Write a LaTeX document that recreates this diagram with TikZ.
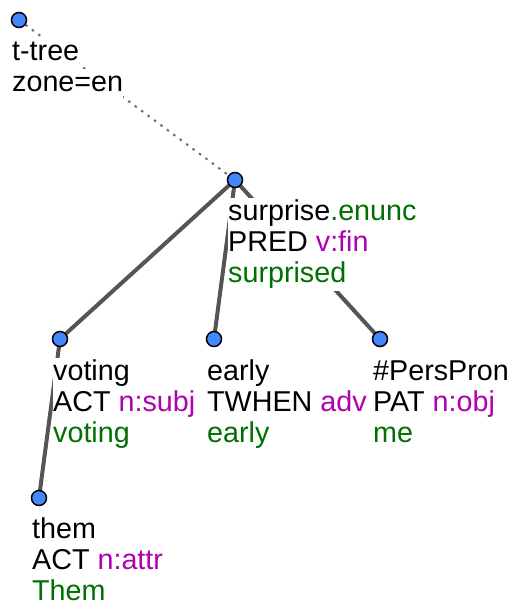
\documentclass[tikz,border=0pt]{standalone}
\usepackage{fontspec}
\setmainfont{Liberation Sans}
\definecolor{ndblue}{RGB}{68,136,255}
\definecolor{lgreen}{RGB}{0,112,0}
\definecolor{lmag}{RGB}{176,0,176}
\definecolor{edgegray}{RGB}{85,85,85}
\pgfdeclarelayer{bg}
\pgfsetlayers{bg,main}
\begin{document}
\begin{tikzpicture}[x=1pt,y=-1pt,font=\fontsize{28.7}{31}\selectfont,
  dot/.style={circle,draw=black,line width=1.5pt,fill=ndblue,minimum size=15pt,inner sep=0pt},
  lbl/.style={anchor=base west,fill=white,inner sep=0pt,text height=22pt,text depth=9pt},
  treeedge/.style={draw=edgegray,line width=4pt},
  dotline/.style={draw=edgegray!85,line width=2pt,dash pattern=on 2.5pt off 5.5pt}]
\useasboundingbox (0,0) rectangle (521,605);
% tree nodes
\node[dot] (root) at (19,20) {};
\node[dot] (surprise) at (235,180) {};
\node[dot] (voting) at (60,339) {};
\node[dot] (early) at (214,339) {};
\node[dot] (pers) at (380,339) {};
\node[dot] (them) at (39,498) {};
% labels
\node[lbl] (rootA) at (12,60) {t-tree};
\node[lbl] (rootB) at (12,91) {zone=en};
\node[lbl] (surA) at (228,220) {surprise\textcolor{lgreen}{.enunc}};
\node[lbl] (surB) at (228,251) {PRED \textcolor{lmag}{v:fin}};
\node[lbl] (surC) at (228,282) {\textcolor{lgreen}{surprised}};
\node[lbl] (votA) at (53,380) {voting};
\node[lbl] (votB) at (53,411) {ACT \textcolor{lmag}{n:subj}};
\node[lbl] (votC) at (53,442) {\textcolor{lgreen}{voting}};
\node[lbl] (earA) at (207,380) {early};
\node[lbl] (earB) at (207,411) {TWHEN \textcolor{lmag}{adv}};
\node[lbl] (earC) at (207,442) {\textcolor{lgreen}{early}};
\node[lbl] (perA) at (373,380) {\#PersPron};
\node[lbl] (perB) at (373,411) {PAT \textcolor{lmag}{n:obj}};
\node[lbl] (perC) at (373,442) {\textcolor{lgreen}{me}};
\node[lbl] (theA) at (32,538) {them};
\node[lbl] (theB) at (32,569) {ACT \textcolor{lmag}{n:attr}};
\node[lbl] (theC) at (32,600) {\textcolor{lgreen}{Them}};
% edges
\begin{pgfonlayer}{bg}
\draw[dotline] (root.center) -- (surprise.center);
\draw[treeedge] (surprise.center) -- (voting.center);
\draw[treeedge] (surprise.center) -- (early.center);
\draw[treeedge] (surprise.center) -- (pers.center);
\draw[treeedge] (voting.center) -- (them.center);
\end{pgfonlayer}
\end{tikzpicture}
\end{document}
